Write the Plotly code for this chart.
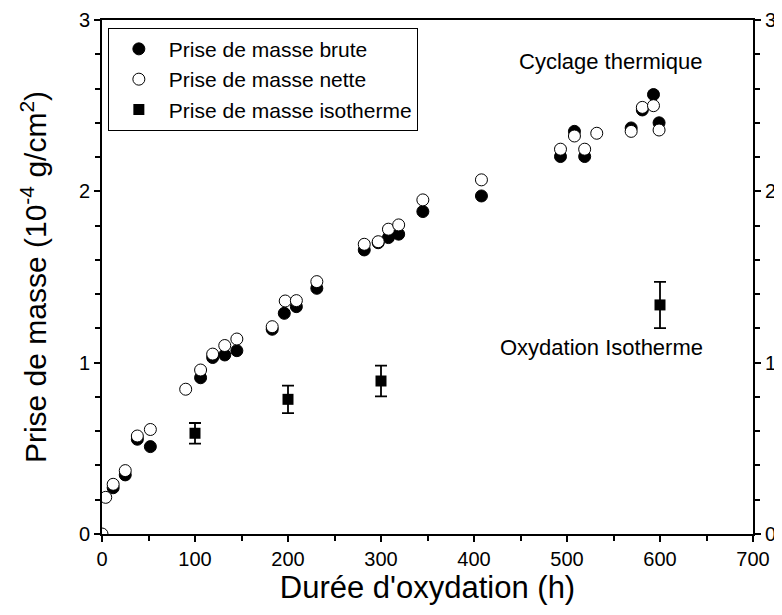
import plotly.graph_objects as go

# Prise de masse brute (filled circles)
brute_x = [12, 25, 38, 52, 106, 119, 132, 145, 183, 196, 209, 231, 282, 297, 308, 319, 345, 408, 493, 508, 519, 569, 581, 593, 599]
brute_y = [0.27, 0.345, 0.553, 0.51, 0.912, 1.03, 1.045, 1.07, 1.195, 1.288, 1.327, 1.434, 1.658, 1.70, 1.73, 1.75, 1.882, 1.973, 2.203, 2.35, 2.203, 2.37, 2.475, 2.565, 2.40]

# Prise de masse nette (open circles)
nette_x = [0, 4, 12, 25, 38, 52, 90, 106, 119, 132, 145, 183, 197, 209, 231, 282, 297, 308, 319, 345, 408, 493, 508, 519, 532, 569, 581, 593, 599]
nette_y = [0, 0.214, 0.29, 0.37, 0.572, 0.61, 0.845, 0.957, 1.05, 1.10, 1.138, 1.21, 1.36, 1.362, 1.473, 1.691, 1.706, 1.779, 1.804, 1.95, 2.067, 2.246, 2.323, 2.246, 2.339, 2.35, 2.49, 2.50, 2.358]

# Prise de masse isotherme (squares with error bars)
iso_x = [100, 200, 300, 600]
iso_y = [0.588, 0.786, 0.893, 1.337]
iso_err = [0.06, 0.08, 0.09, 0.135]

FONT = "Liberation Sans, Arial, sans-serif"

fig = go.Figure()
fig.add_trace(go.Scatter(
    x=brute_x, y=brute_y, mode="markers", name="Prise de masse brute",
    marker=dict(symbol="circle", size=12, color="black", line=dict(color="black", width=1)),
))
fig.add_trace(go.Scatter(
    x=nette_x, y=nette_y, mode="markers", name="Prise de masse nette",
    marker=dict(symbol="circle", size=12, color="white", line=dict(color="black", width=1)),
))
fig.add_trace(go.Scatter(
    x=iso_x, y=iso_y, mode="markers", name="Prise de masse isotherme",
    marker=dict(symbol="square", size=11, color="black"),
    error_y=dict(type="data", array=iso_err, visible=True, color="black", thickness=1.8, width=6),
))
# invisible trace for right axis
fig.add_trace(go.Scatter(x=[0], y=[0], yaxis="y2", mode="markers",
                         marker=dict(opacity=0), showlegend=False, hoverinfo="skip"))

fig.add_annotation(x=547, y=2.755, text="Cyclage thermique", showarrow=False,
                   font=dict(family=FONT, size=22, color="black"))
fig.add_annotation(x=537, y=1.086, text="Oxydation Isotherme", showarrow=False,
                   font=dict(family=FONT, size=22, color="black"))

axis_common = dict(showgrid=False, zeroline=False, showline=True, linecolor="black",
                   linewidth=2, ticks="outside", tickwidth=1.5, tickcolor="black",
                   ticklen=6, automargin=False,
                   tickfont=dict(family=FONT, size=20, color="black"))

# page body has an 8px default margin: size/margins compensate for it
fig.update_layout(
    width=774, height=607,
    margin=dict(l=94, r=29, t=12, b=81),
    paper_bgcolor="white", plot_bgcolor="white",
    font=dict(family=FONT, color="black"),
    showlegend=True,
    legend=dict(x=0.009, y=0.985, xanchor="left", yanchor="top",
                bgcolor="white", bordercolor="black", borderwidth=1,
                font=dict(family=FONT, size=21, color="black"),
                itemwidth=50, tracegroupgap=0),
    xaxis=dict(range=[0, 700], tickvals=[0, 100, 200, 300, 400, 500, 600, 700],
               mirror=True,
               minor=dict(tickvals=[50, 150, 250, 350, 450, 550, 650], ticks="outside",
                          ticklen=5, tickcolor="black", tickwidth=1.5),
               title=dict(text="Durée d'oxydation (h)", font=dict(family=FONT, size=31, color="black"),
                          standoff=2),
               **axis_common),
    yaxis=dict(range=[0, 3], tickvals=[0, 1, 2, 3],
               minor=dict(dtick=0.2, ticks="outside", ticklen=5, tickcolor="black", tickwidth=1.5),
               title=dict(text="Prise de masse (10<sup>-4</sup> g/cm<sup>2</sup>)",
                          font=dict(family=FONT, size=30, color="black"), standoff=23),
               **axis_common),
    yaxis2=dict(range=[0, 3], tickvals=[0, 1, 2, 3], overlaying="y", side="right",
                minor=dict(dtick=0.2, ticks="outside", ticklen=5, tickcolor="black", tickwidth=1.5),
                **axis_common),
)

fig.write_html("out.html")
